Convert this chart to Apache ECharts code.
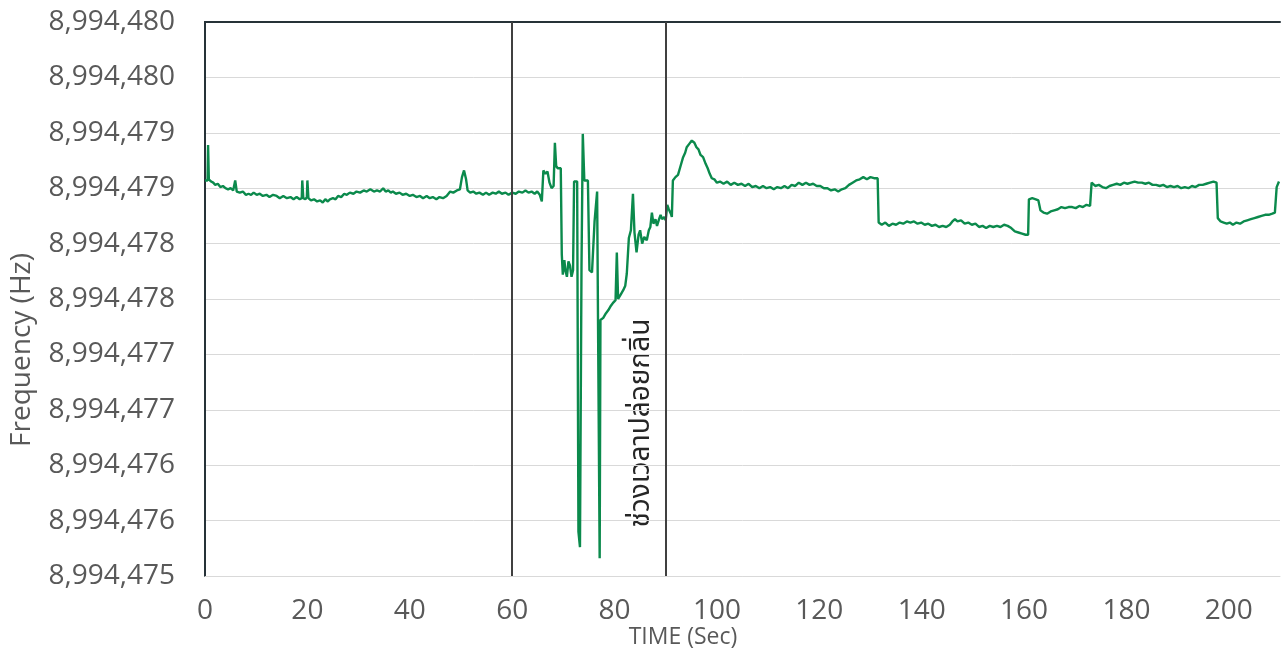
<!DOCTYPE html>
<html>
<head>
<meta charset="utf-8">
<script src="https://cdn.jsdelivr.net/npm/echarts@6/dist/echarts.min.js"></script>
<style>html,body{margin:0;padding:0;background:#fff;}#c{width:1286px;height:658px;}</style>
</head>
<body>
<div id="c"></div>
<script>
const timeSec = [
0.0,0.5,0.6,0.75,1.2,1.6,2.0,2.5,3.0,3.5,4.0,4.5,5.0,5.5,5.8,5.9,6.1,6.2,6.8,7.4,
8.0,8.5,9.0,9.5,10.1,10.7,11.3,12.0,12.6,13.3,14.0,14.6,15.3,16.0,16.7,17.3,17.9,18.5,18.9,19.0,
19.2,19.6,19.9,20.0,20.2,20.7,21.3,21.9,22.5,23.0,23.5,24.0,24.4,25.0,25.5,26.0,26.6,27.2,27.7,28.3,
29.0,29.6,30.3,31.0,31.6,32.3,33.0,33.6,34.2,34.8,35.3,35.8,36.3,36.7,37.3,38.0,38.6,39.3,40.0,40.6,
41.3,42.0,42.6,43.3,43.9,44.5,45.2,45.8,46.5,47.2,47.9,48.5,49.2,49.8,50.2,50.6,51.0,51.3,51.8,52.4,
53.0,53.6,54.3,54.9,55.5,56.2,56.8,57.4,58.0,58.7,59.3,60.0,60.7,61.3,62.0,62.6,63.2,63.8,64.4,64.9,
65.4,65.8,66.1,66.5,66.9,67.3,67.7,68.1,68.35,68.6,68.9,69.5,69.7,69.9,70.2,70.4,70.7,71.0,71.3,71.6,
71.9,72.1,72.7,72.95,73.25,73.55,73.8,74.1,74.8,75.1,75.6,76.1,76.6,77.1,77.25,77.8,78.3,78.8,79.3,79.8,
80.2,80.45,80.7,81.2,81.7,82.1,82.4,82.8,83.2,83.6,83.9,84.3,84.7,85.0,85.4,85.8,86.3,86.7,87.0,87.3,
87.6,88.0,88.3,88.7,89.0,89.3,89.7,90.0,90.3,90.6,91.0,91.2,91.4,91.9,92.4,92.9,93.4,93.8,94.1,94.6,
95.1,95.6,96.0,96.4,96.8,97.3,97.8,98.2,98.6,99.0,99.5,100.0,100.6,101.3,102.0,102.7,103.4,104.1,104.8,105.5,
106.2,106.9,107.6,108.3,109.0,109.7,110.4,111.1,111.8,112.5,113.2,113.9,114.6,115.3,116.0,116.7,117.4,118.1,118.8,119.5,
120.2,120.9,121.6,122.3,123.0,123.7,124.4,125.1,125.8,126.5,127.2,127.9,128.6,129.3,130.0,130.7,131.4,131.6,132.2,132.9,
133.6,134.3,135.0,135.7,136.4,137.1,137.8,138.5,139.2,139.9,140.6,141.3,142.0,142.7,143.4,144.1,144.8,145.5,146.0,146.5,
147.0,147.7,148.4,149.1,149.8,150.5,151.2,151.9,152.6,153.3,154.0,154.7,155.4,156.1,156.8,157.5,158.2,158.9,159.6,160.3,
160.8,160.95,161.6,162.3,162.8,163.2,163.8,164.5,165.2,165.9,166.6,167.3,168.0,168.7,169.4,170.1,170.8,171.5,172.2,172.9,
173.2,173.9,174.6,175.3,176.0,176.7,177.4,178.1,178.8,179.5,180.2,180.9,181.6,182.3,183.0,183.7,184.4,185.1,185.8,186.5,
187.2,187.9,188.6,189.3,190.0,190.7,191.4,192.1,192.8,193.5,194.2,194.9,195.6,196.3,197.0,197.6,197.85,198.4,199.0,199.6,
200.2,200.8,201.5,202.2,202.9,203.6,204.3,205.0,205.7,206.4,207.1,207.8,208.5,209.0,209.35,209.8
];
const freqHz = [
8994478.57,8994478.57,8994478.89,8994478.58,8994478.56,8994478.55,8994478.53,8994478.54,8994478.51,8994478.52,8994478.50,8994478.49,8994478.50,8994478.48,8994478.48,8994478.57,8994478.57,8994478.47,8994478.46,8994478.47,
8994478.44,8994478.45,8994478.44,8994478.46,8994478.44,8994478.45,8994478.43,8994478.44,8994478.42,8994478.44,8994478.43,8994478.41,8994478.43,8994478.41,8994478.42,8994478.40,8994478.42,8994478.40,8994478.41,8994478.57,
8994478.41,8994478.40,8994478.42,8994478.57,8994478.41,8994478.39,8994478.40,8994478.38,8994478.39,8994478.37,8994478.40,8994478.38,8994478.40,8994478.41,8994478.40,8994478.43,8994478.42,8994478.45,8994478.44,8994478.46,
8994478.45,8994478.47,8994478.46,8994478.48,8994478.47,8994478.49,8994478.47,8994478.48,8994478.47,8994478.50,8994478.47,8994478.48,8994478.46,8994478.47,8994478.45,8994478.46,8994478.44,8994478.45,8994478.43,8994478.44,
8994478.42,8994478.43,8994478.41,8994478.43,8994478.41,8994478.42,8994478.40,8994478.42,8994478.41,8994478.43,8994478.47,8994478.46,8994478.48,8994478.49,8994478.60,8994478.66,8994478.58,8994478.48,8994478.46,8994478.47,
8994478.45,8994478.46,8994478.44,8994478.46,8994478.44,8994478.46,8994478.45,8994478.47,8994478.45,8994478.46,8994478.44,8994478.46,8994478.45,8994478.47,8994478.46,8994478.48,8994478.46,8994478.47,8994478.45,8994478.47,
8994478.44,8994478.38,8994478.66,8994478.63,8994478.65,8994478.55,8994478.50,8994478.52,8994478.91,8994478.70,8994478.68,8994478.68,8994477.90,8994477.72,8994477.85,8994477.76,8994477.70,8994477.84,8994477.80,8994477.70,
8994477.76,8994478.56,8994478.56,8994475.40,8994475.26,8994477.80,8994478.99,8994478.57,8994478.57,8994477.76,8994477.74,8994478.20,8994478.47,8994475.16,8994477.31,8994477.33,8994477.37,8994477.40,8994477.44,8994477.47,
8994477.49,8994477.92,8994477.50,8994477.54,8994477.58,8994477.62,8994477.73,8994478.05,8994478.12,8994478.45,8994478.10,8994477.92,8994478.08,8994478.12,8994478.00,8994478.06,8994478.03,8994478.12,8994478.15,8994478.28,
8994478.18,8994478.22,8994478.16,8994478.22,8994478.26,8994478.22,8994478.24,8994478.21,8994478.35,8994478.31,8994478.27,8994478.24,8994478.57,8994478.60,8994478.62,8994478.70,8994478.78,8994478.82,8994478.87,8994478.90,
8994478.93,8994478.91,8994478.87,8994478.85,8994478.80,8994478.78,8994478.72,8994478.68,8994478.63,8994478.59,8994478.58,8994478.55,8994478.56,8994478.54,8994478.56,8994478.53,8994478.55,8994478.53,8994478.54,8994478.52,
8994478.54,8994478.51,8994478.52,8994478.50,8994478.52,8994478.50,8994478.51,8994478.49,8994478.51,8994478.50,8994478.52,8994478.50,8994478.53,8994478.52,8994478.55,8994478.53,8994478.55,8994478.53,8994478.54,8994478.52,
8994478.52,8994478.50,8994478.50,8994478.48,8994478.49,8994478.47,8994478.49,8994478.50,8994478.53,8994478.55,8994478.57,8994478.58,8994478.60,8994478.58,8994478.60,8994478.59,8994478.59,8994478.19,8994478.17,8994478.19,
8994478.16,8994478.18,8994478.17,8994478.19,8994478.18,8994478.20,8994478.19,8994478.20,8994478.18,8994478.19,8994478.17,8994478.18,8994478.16,8994478.17,8994478.15,8994478.16,8994478.15,8994478.17,8994478.20,8994478.22,
8994478.20,8994478.21,8994478.18,8994478.19,8994478.17,8994478.18,8994478.15,8994478.16,8994478.14,8994478.16,8994478.15,8994478.16,8994478.15,8994478.17,8994478.16,8994478.14,8994478.11,8994478.10,8994478.09,8994478.08,
8994478.08,8994478.40,8994478.41,8994478.40,8994478.39,8994478.30,8994478.28,8994478.27,8994478.29,8994478.30,8994478.31,8994478.33,8994478.32,8994478.33,8994478.33,8994478.32,8994478.34,8994478.33,8994478.35,8994478.34,
8994478.55,8994478.52,8994478.53,8994478.51,8994478.50,8994478.52,8994478.53,8994478.54,8994478.53,8994478.55,8994478.54,8994478.55,8994478.56,8994478.55,8994478.55,8994478.54,8994478.55,8994478.53,8994478.53,8994478.52,
8994478.53,8994478.51,8994478.52,8994478.51,8994478.52,8994478.50,8994478.51,8994478.50,8994478.52,8994478.51,8994478.53,8994478.53,8994478.54,8994478.55,8994478.56,8994478.55,8994478.23,8994478.20,8994478.19,8994478.18,
8994478.19,8994478.17,8994478.19,8994478.18,8994478.20,8994478.21,8994478.22,8994478.23,8994478.24,8994478.25,8994478.26,8994478.26,8994478.27,8994478.28,8994478.51,8994478.56
];
const markerTimes = [60, 90];
const xTicks = { min: 0, max: 210, interval: 20 };
const yTicks = { min: 8994475, max: 8994480, interval: 0.5 };
const xTitle = 'TIME (Sec)';
const yTitle = 'Frequency (Hz)';
const periodLabel = 'ช่วงเวลาปล่อยกลิ่น';

const points = timeSec.map((t, i) => [t, freqHz[i]]);
const labelColor = '#595959';
const font = '"Open Sans", "Noto Sans", sans-serif';

const chart = echarts.init(document.getElementById('c'), null, { renderer: 'canvas' });
chart.setOption({
  animation: false,
  backgroundColor: '#ffffff',
  grid: { left: 205, right: 6, top: 22, bottom: 82, containLabel: false },
  xAxis: [{
    type: 'value', min: xTicks.min, max: xTicks.max, interval: xTicks.interval,
    axisLine: { show: true, onZero: false, lineStyle: { color: '#d9d9d9', width: 1 } },
    axisTick: { show: false },
    splitLine: { show: false },
    axisLabel: { color: labelColor, fontSize: 28, fontFamily: font, margin: 21, showMaxLabel: false }
  }, {
    type: 'value', position: 'top', min: xTicks.min, max: xTicks.max,
    axisLine: { show: true, lineStyle: { color: '#263238', width: 2 } },
    axisTick: { show: false }, axisLabel: { show: false }, splitLine: { show: false }
  }],
  yAxis: [{
    type: 'value', min: yTicks.min, max: yTicks.max, interval: yTicks.interval,
    axisLine: { show: true, onZero: false, lineStyle: { color: '#263238', width: 2 } },
    axisTick: { show: false },
    splitLine: { show: true, lineStyle: { color: '#d9d9d9', width: 1 } },
    axisLabel: { color: labelColor, fontSize: 28, fontFamily: font, margin: 30,
      formatter: v => Math.round(v).toLocaleString('en-US') }
  }, {
    type: 'value', position: 'right', min: yTicks.min, max: yTicks.max,
    axisLine: { show: true, lineStyle: { color: '#263238', width: 2 } },
    axisTick: { show: false }, axisLabel: { show: false }, splitLine: { show: false }
  }],
  series: [{
    type: 'line',
    data: points,
    showSymbol: false,
    symbol: 'none',
    lineStyle: { color: '#0b8a4c', width: 2.4 },
    itemStyle: { color: '#0b8a4c' },
    markLine: {
      silent: true, symbol: 'none', animation: false,
      label: { show: false },
      lineStyle: { color: '#404040', width: 2, type: 'solid' },
      data: markerTimes.map(t => ({ xAxis: t }))
    }
  }],
  graphic: [
    { type: 'text', x: 683, y: 637, style: { text: xTitle, fill: labelColor, font: '23px ' + font, textAlign: 'center', textVerticalAlign: 'middle' } },
    { type: 'text', x: 22, y: 350, rotation: Math.PI / 2, style: { text: yTitle, fill: labelColor, font: '28px ' + font, textAlign: 'center', textVerticalAlign: 'middle' } },
    { type: 'text', x: 643, y: 423, rotation: Math.PI / 2, style: { text: periodLabel, fill: '#262626', font: '28px "Noto Sans Thai", "Noto Sans", sans-serif', textAlign: 'center', textVerticalAlign: 'middle' } }
  ]
});
</script>
</body>
</html>
